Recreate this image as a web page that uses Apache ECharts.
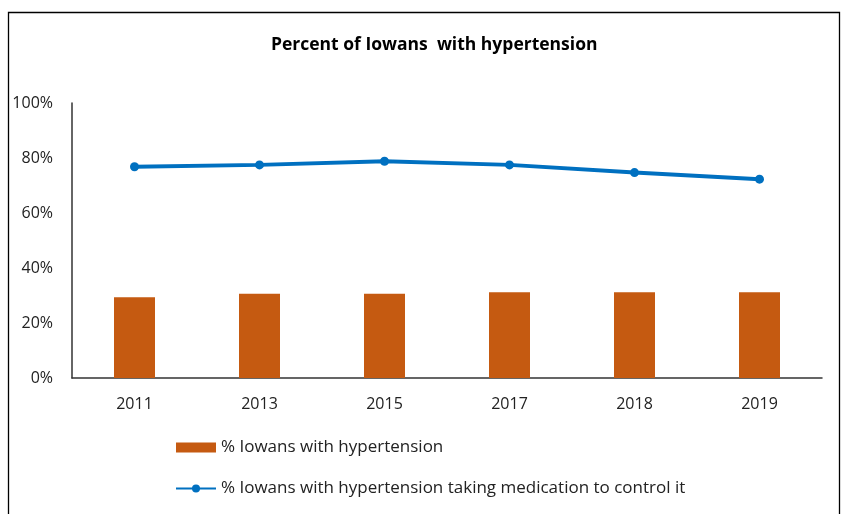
<!DOCTYPE html>
<html>
<head>
<meta charset="utf-8">
<script src="https://cdn.jsdelivr.net/npm/echarts@6/dist/echarts.min.js"></script>
<style>
  html, body { margin: 0; padding: 0; background: #fff; }
  #chart { width: 842px; height: 514px; }
</style>
</head>
<body>
<div id="chart"></div>
<script>
const years = ['2011', '2013', '2015', '2017', '2018', '2019']
const withHypertension = [29.4, 30.6, 30.6, 31.2, 31.2, 31.2]
const takingMedication = [76.8, 77.5, 78.8, 77.5, 74.7, 72.3]
const yTicks = [0, 20, 40, 60, 80, 100]

const font = 'Open Sans, DejaVu Sans, sans-serif'

const chart = echarts.init(document.getElementById('chart'))
chart.setOption({
  animation: false,
  title: {
    text: 'Percent of Iowans  with hypertension',
    left: 266,
    top: 31,
    textStyle: { fontFamily: font, fontSize: 17.5, fontWeight: 'bold', color: '#000' }
  },
  graphic: [{
    type: 'rect',
    shape: { x: 8.5, y: 12.5, width: 831, height: 520 },
    style: { fill: 'none', stroke: '#000', lineWidth: 1.3 },
    silent: true
  }],
  grid: { left: 72, right: 20, top: 103, bottom: 136 },
  legend: {
    orient: 'vertical',
    left: 170,
    top: 434,
    itemGap: 24,
    itemWidth: 40,
    itemHeight: 10,
    textStyle: { fontFamily: font, fontSize: 17, color: '#222' },
    data: [
      { name: '% Iowans with hypertension', icon: 'rect' },
      { name: '% Iowans with hypertension taking medication to control it' }
    ]
  },
  xAxis: {
    type: 'category',
    data: years,
    axisLine: { lineStyle: { color: '#333', width: 1.5 } },
    axisTick: { show: false },
    axisLabel: { fontFamily: font, fontSize: 16, color: '#222', margin: 18 }
  },
  yAxis: {
    type: 'value',
    min: yTicks[0],
    max: yTicks[yTicks.length - 1],
    interval: 20,
    axisLine: { show: true, lineStyle: { color: '#333', width: 1.5 } },
    axisTick: { show: false },
    splitLine: { show: false },
    axisLabel: {
      fontFamily: font, fontSize: 16, color: '#222', margin: 19,
      formatter: v => v + '%'
    }
  },
  series: [
    {
      name: '% Iowans with hypertension',
      type: 'bar',
      data: withHypertension,
      barWidth: 41,
      itemStyle: { color: '#C55A11' }
    },
    {
      name: '% Iowans with hypertension taking medication to control it',
      type: 'line',
      data: takingMedication,
      symbol: 'circle',
      symbolSize: 9,
      lineStyle: { color: '#0070C0', width: 4 },
      itemStyle: { color: '#0070C0' }
    }
  ]
})
</script>
</body>
</html>
